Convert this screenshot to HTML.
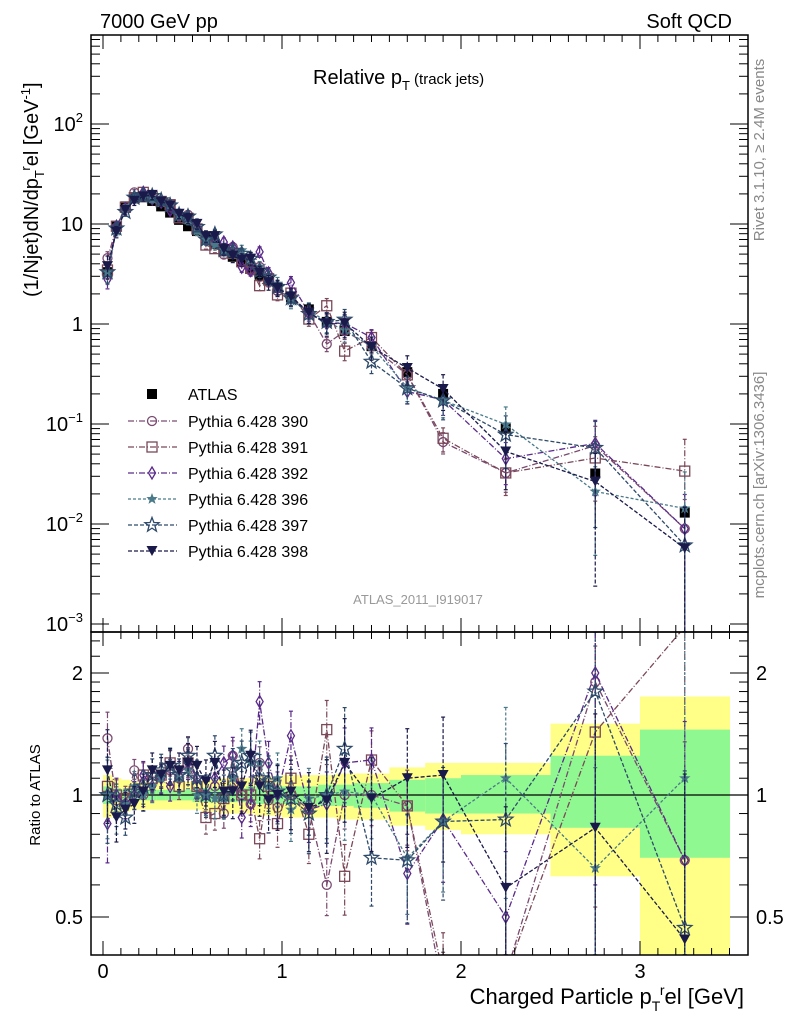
<!DOCTYPE html>
<html><head><meta charset="utf-8"><style>
html,body{margin:0;padding:0;background:#fff;width:786px;height:1024px;overflow:hidden}
svg{display:block;font-family:"Liberation Sans",sans-serif}
</style></head><body>
<svg id="c" width="786" height="1024" viewBox="0 0 786 1024" xmlns="http://www.w3.org/2000/svg">
<defs>
<clipPath id="ct"><rect x="91" y="35" width="657" height="597"/></clipPath>
<clipPath id="cb"><rect x="91" y="632" width="657" height="323"/></clipPath>
</defs>
<g id="bands" clip-path="url(#cb)"></g>
<g id="topg" clip-path="url(#ct)"></g>
<g id="botg" clip-path="url(#cb)"></g>
<g id="axes"></g>
<text x="100" y="28" font-size="20">7000 GeV pp</text>
<text x="732" y="28" font-size="20" text-anchor="end">Soft QCD</text>
<text x="313" y="84" font-size="20">Relative p<tspan font-size="13" dy="6">T</tspan><tspan font-size="15" dy="-6"> (track jets)</tspan></text>
<text x="418" y="604" font-size="13" fill="#999" text-anchor="middle">ATLAS_2011_I919017</text>
<text transform="translate(38,297) rotate(-90)" font-size="20" text-anchor="start">(1/Njet)dN/dp<tspan font-size="13" dy="6">T</tspan><tspan font-size="13" dy="-14">r</tspan><tspan dy="8">el [GeV</tspan><tspan font-size="13" dy="-8">-1</tspan><tspan dy="8">]</tspan></text>
<text transform="translate(40,795) rotate(-90)" font-size="15" text-anchor="middle">Ratio to ATLAS</text>
<text x="744" y="1004" font-size="22" text-anchor="end">Charged Particle p<tspan font-size="14" dy="7">T</tspan><tspan font-size="14" dy="-16">r</tspan><tspan dy="9">el [GeV]</tspan></text>
<text transform="translate(764,150) rotate(-90)" font-size="15" fill="#888" text-anchor="middle">Rivet 3.1.10, ≥ 2.4M events</text>
<text transform="translate(764,485) rotate(-90)" font-size="15" fill="#888" text-anchor="middle">mcplots.cern.ch [arXiv:1306.3436]</text>
<g id="legend"></g>
</svg>
<script>
const xs=[0.025,0.075,0.125,0.175,0.225,0.275,0.325,0.375,0.425,0.475,0.525,0.575,0.625,0.675,0.725,0.775,0.825,0.875,0.925,0.975,1.05,1.15,1.25,1.35,1.5,1.7,1.9,2.25,2.75,3.25];
const atlas=[3.3,9.5,15,18,18.5,17,15,13,11,9.5,8.5,7,6.3,5.5,4.7,4.2,3.6,3.1,2.7,2.3,1.85,1.4,1.05,0.85,0.6,0.33,0.2,0.09,0.032,0.013];
const edges=[0,0.05,0.1,0.15,0.2,0.25,0.3,0.35,0.4,0.45,0.5,0.55,0.6,0.65,0.7,0.75,0.8,0.85,0.9,0.95,1.0,1.1,1.2,1.3,1.4,1.6,1.8,2.0,2.5,3.0,3.5];
const yelLo=[0.88,0.9,0.91,0.92,0.92,0.92,0.92,0.92,0.92,0.92,0.92,0.91,0.91,0.9,0.9,0.9,0.9,0.89,0.89,0.89,0.88,0.88,0.88,0.87,0.87,0.84,0.82,0.8,0.63,0.35];
const yelHi=[1.12,1.1,1.09,1.08,1.08,1.08,1.08,1.08,1.08,1.08,1.08,1.09,1.09,1.1,1.1,1.1,1.1,1.11,1.11,1.11,1.12,1.12,1.12,1.13,1.13,1.17,1.2,1.2,1.5,1.75];
const grnLo=[0.95,0.96,0.97,0.97,0.97,0.97,0.97,0.97,0.97,0.97,0.96,0.96,0.96,0.96,0.96,0.96,0.95,0.95,0.95,0.95,0.95,0.95,0.94,0.94,0.93,0.91,0.9,0.9,0.83,0.7];
const grnHi=[1.05,1.04,1.03,1.03,1.03,1.03,1.03,1.03,1.03,1.03,1.04,1.04,1.04,1.04,1.04,1.04,1.05,1.05,1.05,1.05,1.05,1.05,1.06,1.06,1.07,1.09,1.1,1.12,1.25,1.45];
const r390=[1.38,0.97,0.95,1.15,1.0,1.08,1.12,1.15,1.1,1.3,1.05,1.0,1.05,0.9,1.25,1.0,0.95,1.2,0.97,0.93,1.0,0.92,0.6,1.0,1.0,0.94,0.33,0.36,1.9,0.69];
const r391=[1.05,1.0,0.98,1.02,1.12,1.1,1.12,1.2,1.05,1.2,1.05,0.88,0.9,0.98,1.08,1.0,1.0,0.78,1.05,0.85,1.1,0.8,1.45,0.63,1.22,0.94,0.36,0.36,1.43,2.6];
const r392=[0.85,1.0,0.95,1.0,1.12,1.05,1.1,1.05,1.12,1.2,1.1,1.0,1.1,1.2,1.25,0.88,0.95,1.7,1.2,1.0,1.4,0.92,0.95,1.2,1.22,0.64,0.87,0.5,2.0,0.69];
const r396=[1.0,0.9,0.95,1.05,1.0,1.05,1.1,1.2,1.1,1.15,1.0,1.0,0.98,0.98,1.1,1.3,1.2,1.2,1.05,1.1,0.92,0.98,1.0,1.02,1.0,0.7,0.86,1.1,0.66,1.1];
const r397=[1.0,0.95,0.88,1.02,1.05,1.12,1.15,1.18,1.12,1.25,1.1,1.0,1.25,1.0,1.15,1.2,1.25,1.1,1.08,1.02,0.98,0.9,1.0,1.3,0.7,0.69,0.86,0.87,1.8,0.47];
const r398=[1.15,0.88,0.92,0.95,1.02,1.15,1.12,1.18,1.15,1.2,1.18,1.08,1.2,1.02,1.02,1.05,1.25,1.05,0.97,1.0,1.02,0.93,0.97,1.2,0.98,1.1,1.12,0.59,0.83,0.44];
const relErr=[0.2,0.1,0.08,0.08,0.08,0.08,0.08,0.08,0.08,0.09,0.09,0.1,0.1,0.1,0.11,0.11,0.12,0.12,0.13,0.14,0.15,0.17,0.2,0.22,0.2,0.25,0.3,0.45,0.7,1.2];
const series=[
 {name:'Pythia 6.428 390',r:r390,c:'#7a4a70',m:'circle',d:'6,2,1,2'},
 {name:'Pythia 6.428 391',r:r391,c:'#7a4858',m:'square',d:'6,2,1,2'},
 {name:'Pythia 6.428 392',r:r392,c:'#5a2a8a',m:'diamond',d:'6,2,1,2'},
 {name:'Pythia 6.428 396',r:r396,c:'#4a7a8a',m:'star',d:'3,2'},
 {name:'Pythia 6.428 397',r:r397,c:'#2e4a6a',m:'ostar',d:'4,2'},
 {name:'Pythia 6.428 398',r:r398,c:'#1a1a4a',m:'tri',d:'4,2'}];
const NS='http://www.w3.org/2000/svg';
const X=v=>103+v*179;
const YT=v=>324-100*Math.log10(v);
const YB=v=>795-122*Math.log2(v);
const clampT=y=>Math.max(35,Math.min(632,y));
const clampB=y=>Math.max(632,Math.min(955,y));
function el(t,a,p){const e=document.createElementNS(NS,t);for(const k in a)e.setAttribute(k,a[k]);p.appendChild(e);return e;}
const topG=document.getElementById('topg'),botG=document.getElementById('botg'),bands=document.getElementById('bands'),axes=document.getElementById('axes'),leg=document.getElementById('legend');
function starPts(cx,cy,R){let p=[];for(let i=0;i<10;i++){const a=-Math.PI/2+i*Math.PI/5,r=i%2?R*0.42:R;p.push((cx+r*Math.cos(a)).toFixed(1)+','+(cy+r*Math.sin(a)).toFixed(1));}return p.join(' ');}
function marker(g,m,cx,cy,c){
 let e;
 if(m==='circle')e=el('circle',{cx,cy,r:4.5,fill:'none',stroke:c,'stroke-width':1.3},g);
 else if(m==='square')e=el('rect',{x:cx-5,y:cy-5,width:10,height:10,fill:'none',stroke:c,'stroke-width':1.3},g);
 else if(m==='diamond')e=el('polygon',{points:`${cx},${cy-6} ${cx+3.5},${cy} ${cx},${cy+6} ${cx-3.5},${cy}`,fill:'none',stroke:c,'stroke-width':1.3},g);
 else if(m==='star')e=el('polygon',{points:starPts(cx,cy,6),fill:c},g);
 else if(m==='ostar')e=el('polygon',{points:starPts(cx,cy,7.5),fill:'none',stroke:c,'stroke-width':1.3},g);
 else if(m==='tri')e=el('polygon',{points:`${cx-5.5},${cy-5} ${cx+5.5},${cy-5} ${cx},${cy+5}`,fill:c},g);
 else e=el('rect',{x:cx-5,y:cy-5,width:10,height:10,fill:c},g);
 return e;
}
for(let i=0;i<xs.length;i++){
 const y=el('rect',{x:X(edges[i]),y:clampB(YB(yelHi[i])),width:X(edges[i+1])-X(edges[i])+0.5,height:clampB(YB(yelLo[i]))-clampB(YB(yelHi[i])),fill:'#ffff88'},bands);
 
 
 const g=el('rect',{x:X(edges[i]),y:YB(grnHi[i]),width:X(edges[i+1])-X(edges[i])+0.5,height:YB(grnLo[i])-YB(grnHi[i]),fill:'#90f890'},bands);
 
 
}
const one=el('line',{x1:91,x2:748,y1:YB(1),y2:YB(1),stroke:'#000','stroke-width':1.2},botG);


const ag=el('g',{},topG);


xs.forEach((x,i)=>{const m=marker(ag,'sq',X(x),YT(atlas[i]),'#000');
 
 });
series.forEach((s,si)=>{
 [['t',topG],['b',botG]].forEach(([k,par])=>{
  const g=el('g',{},par);
  
  
  const val=i=>k==='t'?atlas[i]*s.r[i]:s.r[i];
  const Y=k==='t'?YT:YB;
  const C=k==='t'?clampT:clampB;
  const pts=xs.map((x,i)=>X(x).toFixed(1)+','+Y(val(i)).toFixed(1)).join(' ');
  el('polyline',{points:pts,fill:'none',stroke:s.c,'stroke-width':1.3,'stroke-dasharray':s.d},g);
  xs.forEach((x,i)=>{
   const v=val(i),e=relErr[i]*(0.8+0.1*si);
   const lo=Math.max(v*(1-e),v*0.02),hi=v*(1+e);
   const yh=C(Y(hi)),yl=C(Y(lo));
   el('line',{x1:X(x),x2:X(x),y1:yh,y2:yl,stroke:s.c,'stroke-width':1.2,'stroke-dasharray':s.d},g);
   el('line',{x1:X(x)-2,x2:X(x)+2,y1:yh,y2:yh,stroke:s.c,'stroke-width':1.2},g);
   el('line',{x1:X(x)-2,x2:X(x)+2,y1:yl,y2:yl,stroke:s.c,'stroke-width':1.2},g);
   const yv=Y(v);
   if(yv>25&&yv<965){
    const m=marker(g,s.m,X(x),yv,s.c);
    
    
   }
  });
 });
});
el('rect',{x:91,y:35,width:657,height:597,fill:'none',stroke:'#000','stroke-width':1.5},axes);
el('rect',{x:91,y:632,width:657,height:323,fill:'none',stroke:'#000','stroke-width':1.5},axes);
for(let t=0;t<=35;t++){const v=t/10,x=X(v);if(x>748)break;const L=t%10===0?14:7;
 [[35,1],[632,-1],[632,1],[955,-1]].forEach(([y0,d])=>el('line',{x1:x,x2:x,y1:y0,y2:y0+d*L,stroke:'#000','stroke-width':1},axes));
 if(t%10===0){const tx=el('text',{x:x,y:978,'font-size':20,'text-anchor':'middle'},axes);tx.textContent=String(v);
  
  }
}
for(let d=-3;d<=2;d++){for(let k=1;k<10;k++){const v=Math.pow(10,d)*k,y=YT(v);if(y<35||y>632)continue;const L=k===1?18:9;
 el('line',{x1:91,x2:91+L,y1:y,y2:y,stroke:'#000'},axes);el('line',{x1:748,x2:748-L,y1:y,y2:y,stroke:'#000'},axes);}
}
const ytl=['10^-3','10^-2','10^-1','1','10','10^2'];
ytl.forEach((s,i)=>{const d=i-3,y=YT(Math.pow(10,d))+7;const t=el('text',{x:83,y:y,'font-size':20,'text-anchor':'end'},axes);
 
 
 if(s.includes('^')){const [b,e]=s.split('^');t.innerHTML=b+'<tspan font-size="13" dy="-9">'+e.replace('-','−')+'</tspan>';}else t.textContent=s;});
const rmaj=[0.5,1,2],rmin=[0.6,0.7,0.8,0.9,1.1,1.2,1.3,1.4,1.5,1.6,1.7,1.8,1.9,2.2,2.4];
rmaj.concat(rmin).forEach(v=>{const y=YB(v),L=rmaj.includes(v)?18:9;
 el('line',{x1:91,x2:91+L,y1:y,y2:y,stroke:'#000'},axes);el('line',{x1:748,x2:748-L,y1:y,y2:y,stroke:'#000'},axes);});
rmaj.forEach(v=>{[[83,'end'],[756,'start']].forEach(([x,a])=>{const t=el('text',{x:x,y:YB(v)+7,'font-size':20,'text-anchor':a},axes);t.textContent=String(v);
 
 });});
const le0=el('g',{},leg);


marker(le0,'sq',152,394,'#000');const lt=el('text',{x:188,y:400,'font-size':16},le0);lt.textContent='ATLAS';
series.forEach((s,i)=>{const y=421+i*26;const g=el('g',{},leg);
 
 
 el('line',{x1:128,x2:177,y1:y,y2:y,stroke:s.c,'stroke-width':1.3,'stroke-dasharray':s.d},g);
 marker(g,s.m,152,y,s.c);const t=el('text',{x:188,y:y+6,'font-size':16},g);t.textContent=s.name;});
</script>
</body></html>
